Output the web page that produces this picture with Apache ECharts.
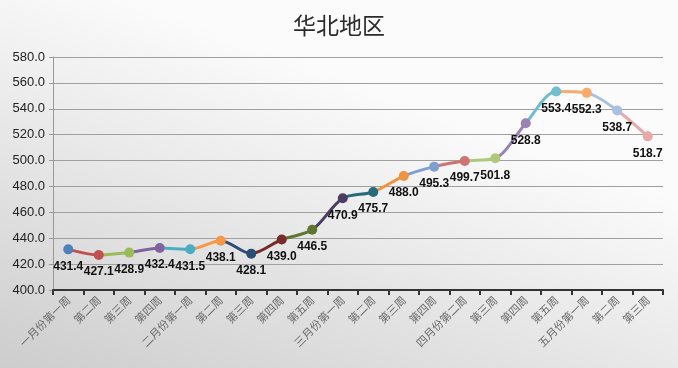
<!DOCTYPE html>
<html>
<head>
<meta charset="utf-8">
<script src="https://cdn.jsdelivr.net/npm/echarts@6/dist/echarts.min.js"></script>
<style>
html,body{margin:0;padding:0;}
#c{width:678px;height:368px;}
</style>
</head>
<body>
<div id="c"></div>
<script>
const categories = ['一月份第一周','第二周','第三周','第四周','二月份第一周','第二周','第三周','第四周','第五周','三月份第一周','第二周','第三周','第四周','四月份第二周','第三周','第四周','第五周','五月份第一周','第二周','第三周'];
const values = [431.4,427.1,428.9,432.4,431.5,438.1,428.1,439.0,446.5,470.9,475.7,488.0,495.3,499.7,501.8,528.8,553.4,552.3,538.7,518.7];
const pointColors = ['#4F81BD','#C0504D','#9BBB59','#8064A2','#4BACC6','#F79646','#2C4D75','#772C2A','#5F7530','#4D3B62','#276A7C','#F0943F','#7F9FCF','#CD7371','#AFC97A','#9983B5','#6FBDD1','#F9AB6B','#A9C0E0','#E8A9A8'];
const yTicks = {min:400, max:580, interval:20};

const pieces = pointColors.map((c,i)=> i===0 ? {lte:0, color:c} : {gt:i-1, lte:i, color:c});

const chart = echarts.init(document.getElementById('c'));
chart.setOption({
  backgroundColor: {
    type:'linear', x:0.2, y:0, x2:0, y2:1,
    colorStops:[{offset:0,color:'#fbfbfb'},{offset:1,color:'#cdcdcd'}]
  },
  title:{
    text:'华北地区', left:'center', top:9,
    textStyle:{fontFamily:'Noto Sans CJK SC', fontSize:23, fontWeight:'normal', color:'#2b2b2b'}
  },
  grid:{left:53, right:15, top:57, bottom:78},
  visualMap:{show:false, dimension:0, pieces:pieces},
  xAxis:{
    type:'category', data:categories, boundaryGap:true,
    axisLine:{lineStyle:{color:'#333', width:2}},
    axisTick:{show:true, length:5, lineStyle:{color:'#333', width:2}},
    axisLabel:{rotate:45, interval:0, margin:8, fontFamily:'Noto Sans CJK SC', fontSize:11, color:'#6a6a6a'}
  },
  yAxis:{
    type:'value', min:yTicks.min, max:yTicks.max, interval:yTicks.interval,
    axisLine:{show:true, lineStyle:{color:'#999'}},
    axisTick:{show:true, length:4, lineStyle:{color:'#999'}},
    axisLabel:{formatter:v=>v.toFixed(1), fontFamily:'Liberation Sans', fontSize:13, color:'#222', margin:8},
    splitLine:{lineStyle:{color:'#a0a0a0', width:1}}
  },
  series:[{
    type:'line', data:values, smooth:0.3,
    symbol:'circle', symbolSize:10,
    lineStyle:{width:3},
    label:{show:true, position:'bottom', distance:6, formatter:p=>p.value.toFixed(1),
      fontFamily:'Liberation Sans', fontWeight:'bold', fontSize:12, color:'#111'}
  }]
});
</script>
</body>
</html>
